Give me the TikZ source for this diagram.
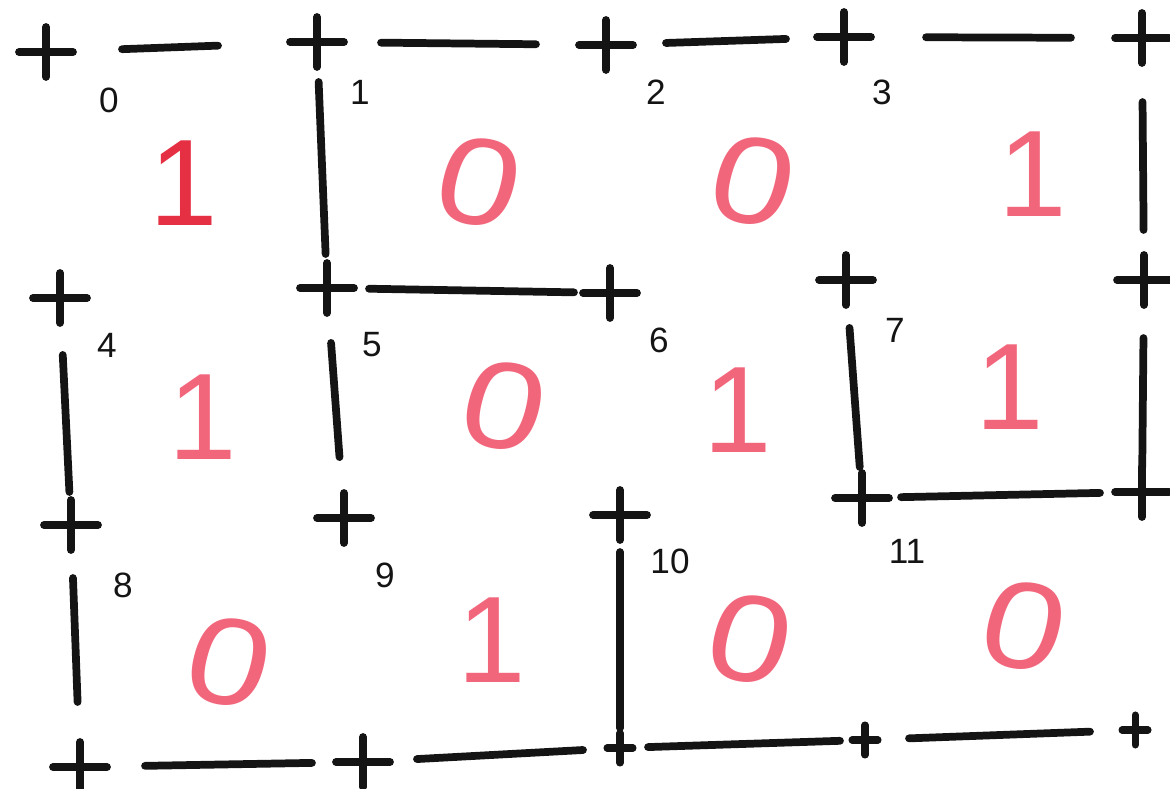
\documentclass[tikz,border=0pt]{standalone}
\usepackage{fontspec}
\setmainfont{Liberation Sans}
\usepackage{xcolor}
\definecolor{inkblack}{RGB}{20, 20, 20}
\definecolor{markpink}{RGB}{242, 102, 124}
\definecolor{markred}{RGB}{228, 48, 66}
\usetikzlibrary{positioning}

\begin{document}
\begin{tikzpicture}[
    x=0.01cm, y=-0.01cm,
    wall/.style={draw=inkblack, line width=2.2pt, line cap=round},
    plus/.pic={\draw[inkblack, line width=2.2pt, line cap=round] (-27,0) -- (27,0) (0,-25) -- (0,25);},
    small plus/.pic={\draw[inkblack, line width=2pt, line cap=round] (-13,0) -- (13,0) (0,-15) -- (0,15);},
    cellno/.style={text=inkblack, inner sep=0pt, font=\fontsize{10}{12}\selectfont},
    bit/.style={text=markpink, inner sep=0pt, font=\fontsize{35}{40}\selectfont},
    nought/.style={bit, xscale=1.2, rotate=-12}
]
    \useasboundingbox (0,0) rectangle (1170,789);

    % grid corners
    \coordinate (c00) at (46,52);   \coordinate (c01) at (317,42);  \coordinate (c02) at (606,45);
    \coordinate (c03) at (844,37);  \coordinate (c04) at (1142,38);
    \coordinate (c10) at (60,298);  \coordinate (c11) at (327,288); \coordinate (c12) at (610,293);
    \coordinate (c13) at (846,280); \coordinate (c14) at (1144,280);
    \coordinate (c20) at (71,525);  \coordinate (c21) at (344,518); \coordinate (c22) at (620,515);
    \coordinate (c23) at (862,498); \coordinate (c24) at (1142,492);
    \coordinate (c30) at (80,767);  \coordinate (c31) at (363,762); \coordinate (c32) at (620,748);
    \coordinate (c33) at (865,740); \coordinate (c34) at (1135,730);

    \pic at (c00) {plus}; \pic at (c01) {plus}; \pic at (c02) {plus}; \pic at (c03) {plus}; \pic at (c04) {plus};
    \pic at (c10) {plus}; \pic at (c11) {plus}; \pic at (c12) {plus}; \pic at (c13) {plus}; \pic at (c14) {plus};
    \pic at (c20) {plus}; \pic at (c21) {plus}; \pic at (c22) {plus}; \pic at (c23) {plus}; \pic at (c24) {plus};
    \pic at (c30) {plus}; \pic at (c31) {plus}; \pic at (c32) {small plus}; \pic at (c33) {small plus}; \pic at (c34) {small plus};

    % walls
    \draw[wall, shorten <=7.6mm, shorten >=9.9mm] (c00) -- (c01);
    \draw[wall, shorten <=6.4mm, shorten >=7mm] (c01) -- (c02);
    \draw[wall, shorten <=6mm, shorten >=5.8mm] (c02) -- (c03);
    \draw[wall, shorten <=8.2mm, shorten >=7.1mm] (c03) -- (c04);
    \draw[wall, shorten <=4mm, shorten >=3.4mm] (c01) -- (c11);
    \draw[wall, shorten <=6.4mm, shorten >=5mm] (c04) -- (c14);
    \draw[wall, shorten <=4.2mm, shorten >=3.6mm] (c11) -- (c12);
    \draw[wall, shorten <=5.7mm, shorten >=3.3mm] (c10) -- (c20);
    \draw[wall, shorten <=5.5mm, shorten >=6.1mm] (c11) -- (c21);
    \draw[wall, shorten <=4.8mm, shorten >=3.1mm] (c13) -- (c23);
    \draw[wall, shorten <=5.8mm, shorten >=2.5mm] (c14) -- (c24);
    \draw[wall, shorten <=3.9mm, shorten >=4.2mm] (c23) -- (c24);
    \draw[wall, shorten <=5.3mm, shorten >=6.5mm] (c20) -- (c30);
    \draw[wall, shorten <=3.7mm, shorten >=2mm] (c22) -- (c32);
    \draw[wall, shorten <=6.5mm, shorten >=5.1mm] (c30) -- (c31);
    \draw[wall, shorten <=5.4mm, shorten >=3.7mm] (c31) -- (c32);
    \draw[wall, shorten <=2.8mm, shorten >=2.5mm] (c32) -- (c33);
    \draw[wall, shorten <=4.4mm, shorten >=4.5mm] (c33) -- (c34);

    % cell numbers
    \node[cellno] (n0) at (109,100) {0};
    \node[cellno] (n1) at (360,92) {1};
    \node[cellno] (n2) at (656,92) {2};
    \node[cellno] (n3) at (882,92) {3};
    \node[cellno] (n4) at (107,345) {4};
    \node[cellno] (n5) at (372,345) {5};
    \node[cellno] (n6) at (659,340) {6};
    \node[cellno] (n7) at (895,330) {7};
    \node[cellno] (n8) at (123,585) {8};
    \node[cellno] (n9) at (385,575) {9};
    \node[cellno] (n10) at (670,561) {10};
    \node[cellno] (n11) at (907,551) {11};

    % cell values
    \node[bit, text=markred] (v0) at (184,183) {1};
    \node[nought] (v1) at (479,182) {0};
    \node[nought] (v2) at (753,181) {0};
    \node[bit] (v3) at (1033,174) {1};
    \node[bit] (v4) at (203,417) {1};
    \node[nought] (v5) at (504,406) {0};
    \node[bit] (v6) at (738,410) {1};
    \node[bit] (v7) at (1010,387) {1};
    \node[nought] (v8) at (229,662) {0};
    \node[bit] (v9) at (492,640) {1};
    \node[nought] (v10) at (750,639) {0};
    \node[nought] (v11) at (1024,626) {0};
\end{tikzpicture}
\end{document}
